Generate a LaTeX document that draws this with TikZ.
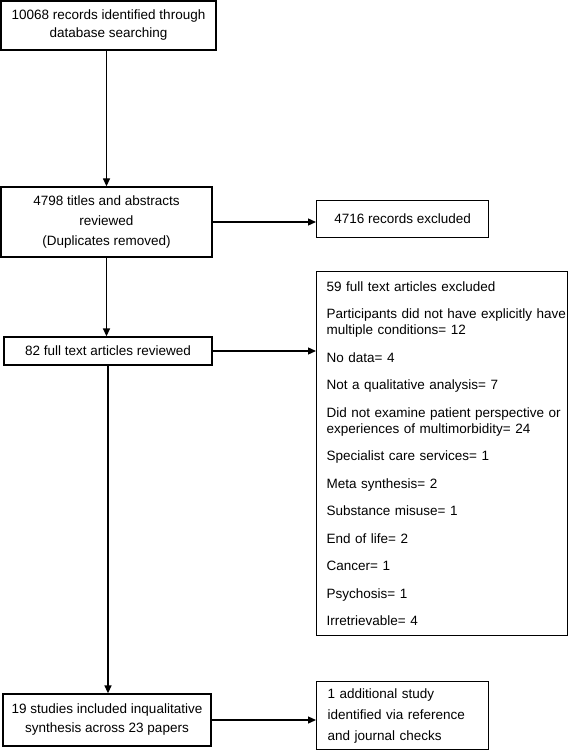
\documentclass[tikz,border=0pt]{standalone}
\usepackage{fontspec}
\setmainfont{Liberation Sans}
\usetikzlibrary{arrows.meta}
\begin{document}
\begin{tikzpicture}[x=1pt,y=-1pt,
  box/.style={draw, line width=1.3pt, inner sep=0pt, font=\fontsize{13.5}{16}\selectfont},
  arr/.style={line width=1.3pt, -{Triangle[length=8pt,width=7pt]}}]
\useasboundingbox (0,0) rectangle (568,751);
% left column
\node[box, minimum width=215, minimum height=49, align=center, font=\fontsize{13.5}{18}\selectfont] (b1) at (108.5,25.5) {10068 records identified through\\database searching};
\node[box, minimum width=211, minimum height=70, align=center, font=\fontsize{13.5}{20}\selectfont] (b2) at (106.5,222) {4798 titles and abstracts\\reviewed\\(Duplicates removed)};
\node[box, minimum width=208, minimum height=28, align=center] (b82) at (108,351) {82 full text articles reviewed};
\node[box, minimum width=208, minimum height=52, align=center, font=\fontsize{13.5}{19}\selectfont] (b19) at (107,720) {19 studies included inqualitative\\synthesis across 23 papers};
% right column
\node[box, anchor=north west, minimum width=172, minimum height=37, align=center] (ex1) at (316,200) {4716 records excluded};
\node[box, anchor=north west, minimum height=364, text width=231, inner xsep=10pt, align=left] (ex2) at (316,271) {59 full text articles excluded\\[11.5pt]
\mbox{Participants did not have explicitly have}\\
multiple conditions= 12\\[11.5pt]
No data= 4\\[11.5pt]
Not a qualitative analysis= 7\\[11.5pt]
\mbox{Did not examine patient perspective or}\\
experiences of multimorbidity= 24\\[11.5pt]
Specialist care services= 1\\[11.5pt]
Meta synthesis= 2\\[11.5pt]
Substance misuse= 1\\[11.5pt]
End of life= 2\\[11.5pt]
Cancer= 1\\[11.5pt]
Psychosis= 1\\[11.5pt]
Irretrievable= 4};
\node[box, anchor=north west, minimum height=68, text width=150, inner xsep=11pt, align=left, font=\fontsize{13.5}{21}\selectfont] (add) at (316,681) {1 additional study\\identified via reference\\and journal checks};
% connectors
\draw[arr] (b1.south -| b2.north) -- (b2.north);
\draw[arr] (b2.east) -- (b2.east -| ex1.west);
\draw[arr] (b2.south) -- (b2.south |- b82.north);
\draw[arr] (b82.east) -- (b82.east -| ex2.west);
\draw[arr] (b82.south) -- (b82.south |- b19.north);
\draw[arr] (b19.east) -- (b19.east -| add.west);
\end{tikzpicture}
\end{document}
